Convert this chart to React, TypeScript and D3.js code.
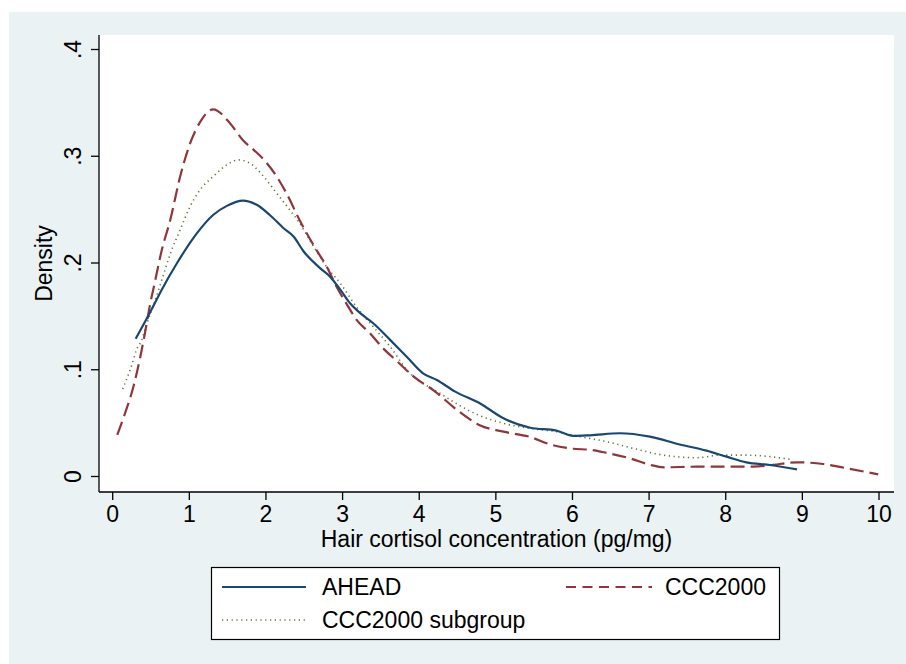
import React from "react";
import * as d3 from "d3";

const xTicks = [0, 1, 2, 3, 4, 5, 6, 7, 8, 9, 10];
const yTicks = [0, 0.1, 0.2, 0.3, 0.4];
const yTickLabels = ["0", ".1", ".2", ".3", ".4"];

const aheadX = [0.30,0.49,0.64,0.84,1.10,1.31,1.49,1.70,1.88,2.05,2.23,2.36,2.49,2.71,2.84,2.97,3.10,3.23,3.40,3.62,3.84,4.05,4.23,4.47,4.79,5.10,5.45,5.79,6.01,6.23,6.62,7.01,7.40,7.75,8.01,8.27,8.58,8.93];
const aheadY = [0.129,0.154,0.175,0.200,0.228,0.245,0.2535,0.2585,0.2545,0.245,0.2326,0.2248,0.211,0.195,0.187,0.175,0.162,0.153,0.1436,0.128,0.112,0.0967,0.0904,0.0795,0.0686,0.0545,0.0457,0.043,0.038,0.0386,0.0405,0.0373,0.030,0.0242,0.0186,0.0133,0.0108,0.0067];

const cccX = [0.06,0.16,0.27,0.36,0.42,0.49,0.55,0.64,0.75,0.88,1.01,1.14,1.31,1.53,1.70,1.84,1.97,2.14,2.27,2.44,2.66,2.79,2.92,3.05,3.18,3.36,3.53,3.71,3.92,4.20,4.50,4.79,5.10,5.45,5.71,6.01,6.23,6.45,6.75,7.01,7.19,7.62,8.06,8.36,8.62,8.93,9.27,9.58,9.99];
const cccY = [0.039,0.059,0.084,0.112,0.134,0.162,0.182,0.212,0.240,0.281,0.312,0.332,0.344,0.331,0.315,0.306,0.297,0.281,0.265,0.240,0.212,0.197,0.178,0.162,0.147,0.134,0.120,0.108,0.094,0.080,0.062,0.048,0.042,0.037,0.030,0.026,0.025,0.022,0.017,0.011,0.0086,0.0092,0.0092,0.0092,0.011,0.0133,0.0117,0.0077,0.002];

const subX = [0.13,0.18,0.25,0.31,0.38,0.44,0.51,0.60,0.64,0.77,0.88,1.01,1.14,1.31,1.49,1.64,1.79,1.97,2.14,2.31,2.44,2.57,2.79,2.97,3.18,3.44,3.62,3.84,4.27,4.79,5.10,5.45,5.79,6.10,6.45,6.79,7.19,7.62,7.93,8.27,8.58,8.84];
const subY = [0.082,0.091,0.1045,0.1186,0.128,0.142,0.156,0.175,0.184,0.212,0.231,0.253,0.2685,0.281,0.292,0.2966,0.2935,0.281,0.2654,0.2498,0.2373,0.2217,0.1966,0.181,0.159,0.137,0.1217,0.0998,0.078,0.057,0.0498,0.045,0.042,0.0373,0.0326,0.0264,0.020,0.0176,0.020,0.020,0.0186,0.016];

const FONT = "'Liberation Sans', Arial, sans-serif";
const FS = 23;

export default function App() {
  const x = d3.scaleLinear().domain([0, 10]).range([112.7, 879]);
  const y = d3.scaleLinear().domain([0, 0.4]).range([476.5, 49.5]);
  const line = d3
    .line<[number, number]>()
    .x((d) => x(d[0]))
    .y((d) => y(d[1]))
    .curve(d3.curveMonotoneX);
  const zip = (a: number[], b: number[]) => a.map((v, i) => [v, b[i]] as [number, number]);

  const plotL = 99, plotR = 894, plotT = 35, plotB = 492;

  return (
    <svg width={906} height={664} style={{ position: "absolute", left: 0, top: 0 }} fontFamily={FONT}>
      <rect x={9} y={12} width={897} height={652} fill="#EAF2F3" />
      <rect x={plotL} y={plotT} width={plotR - plotL} height={plotB - plotT} fill="#FFFFFF" />
      {/* series */}
      <path d={line(zip(subX, subY)) || ""} fill="none" stroke="#55752F" strokeWidth={1.6} strokeDasharray="1.2,3.6" />
      <path d={line(zip(cccX, cccY)) || ""} fill="none" stroke="#90353B" strokeWidth={2.2} strokeDasharray="14,6" />
      <path d={line(zip(aheadX, aheadY)) || ""} fill="none" stroke="#1A476F" strokeWidth={2.2} />
      {/* axes */}
      <line x1={plotL} x2={plotL} y1={plotT} y2={plotB} stroke="#000" strokeWidth={1.3} />
      <line x1={plotL} x2={plotR} y1={plotB} y2={plotB} stroke="#000" strokeWidth={1.3} />
      {yTicks.map((t, i) => (
        <g key={"y" + i}>
          <line x1={plotL - 8} x2={plotL} y1={y(t)} y2={y(t)} stroke="#000" strokeWidth={1.3} />
          <text
            transform={`translate(80.5,${y(t)}) rotate(-90)`}
            textAnchor="middle"
            fontSize={FS}
            fill="#000"
          >
            {yTickLabels[i]}
          </text>
        </g>
      ))}
      {xTicks.map((t, i) => (
        <g key={"x" + i}>
          <line x1={x(t)} x2={x(t)} y1={plotB} y2={plotB + 8} stroke="#000" strokeWidth={1.3} />
          <text x={x(t)} y={522} textAnchor="middle" fontSize={FS} fill="#000">
            {String(t)}
          </text>
        </g>
      ))}
      <text x={(plotL + plotR) / 2} y={547} textAnchor="middle" fontSize={FS} fill="#000">
        Hair cortisol concentration (pg/mg)
      </text>
      <text transform={`translate(52,${(plotT + plotB) / 2}) rotate(-90)`} textAnchor="middle" fontSize={FS} fill="#000">
        Density
      </text>
      {/* legend */}
      <rect x={211.5} y={567.5} width={568} height={72} fill="#FFFFFF" stroke="#000" strokeWidth={1.2} />
      <line x1={222} x2={306} y1={587} y2={587} stroke="#1A476F" strokeWidth={2.2} />
      <text x={322} y={595} fontSize={FS} fill="#000">AHEAD</text>
      <line x1={566} x2={652} y1={587} y2={587} stroke="#90353B" strokeWidth={2.2} strokeDasharray="10,6.5" />
      <text x={665} y={595} fontSize={FS} fill="#000">CCC2000</text>
      <line x1={222} x2={306} y1={620} y2={620} stroke="#55752F" strokeWidth={1.6} strokeDasharray="1.2,3.6" />
      <text x={322} y={628} fontSize={FS} fill="#000">CCC2000 subgroup</text>
    </svg>
  );
}
